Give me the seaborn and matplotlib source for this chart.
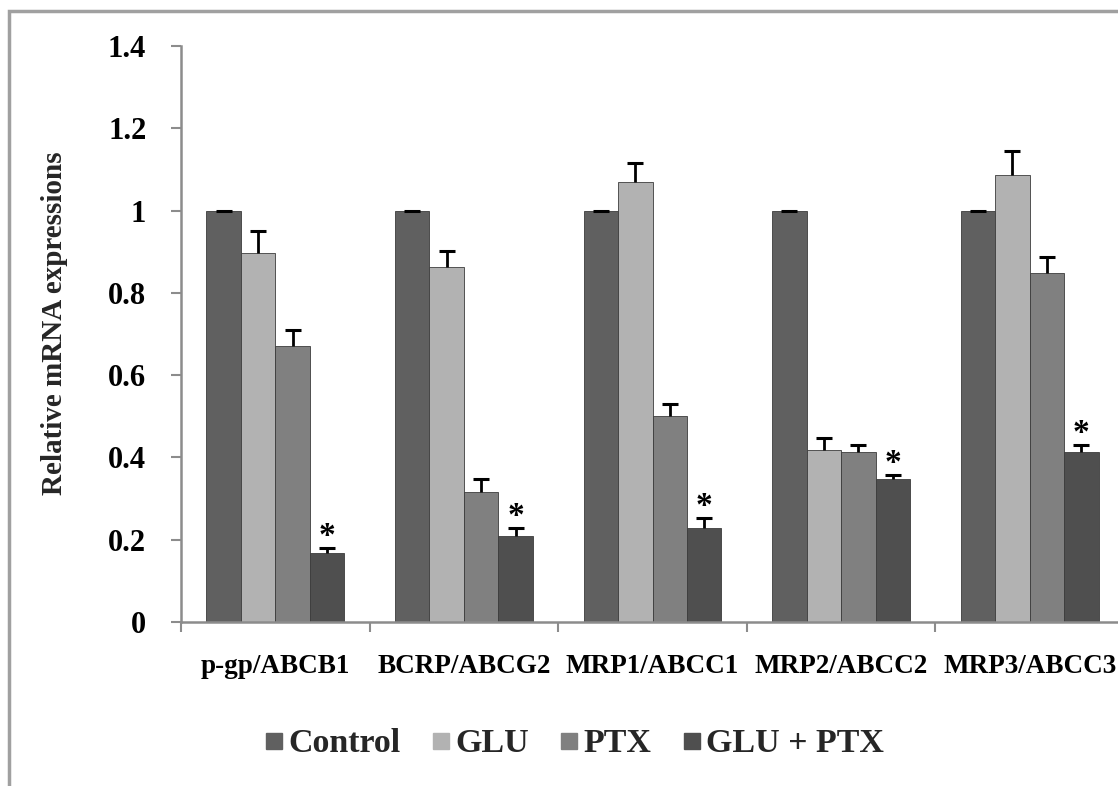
import matplotlib
matplotlib.use("Agg")
import matplotlib.pyplot as plt
from matplotlib.patches import Rectangle
from matplotlib.lines import Line2D
import numpy as np
import pandas as pd
import seaborn as sns

# ---------------- data ----------------
genes = ["p-gp/ABCB1", "BCRP/ABCG2", "MRP1/ABCC1", "MRP2/ABCC2", "MRP3/ABCC3"]
groups = ["Control", "GLU", "PTX", "GLU + PTX"]

control = [1.0, 1.0, 1.0, 1.0, 1.0]
glu = [0.897, 0.862, 1.07, 0.418, 1.087]
ptx = [0.67, 0.316, 0.50, 0.413, 0.848]
glu_ptx = [0.168, 0.209, 0.228, 0.348, 0.413]

control_err = [0.0, 0.0, 0.0, 0.0, 0.0]
glu_err = [0.053, 0.040, 0.046, 0.029, 0.058]
ptx_err = [0.040, 0.032, 0.030, 0.017, 0.040]
glu_ptx_err = [0.012, 0.019, 0.025, 0.009, 0.017]

star_group = "GLU + PTX"
y_ticks = [0, 0.2, 0.4, 0.6, 0.8, 1.0, 1.2, 1.4]
y_tick_labels = ["0", "0.2", "0.4", "0.6", "0.8", "1", "1.2", "1.4"]
y_label = "Relative mRNA expressions"

colors = ["#606060", "#b2b2b2", "#808080", "#4f4f4f"]

values = [control, glu, ptx, glu_ptx]
errors = [control_err, glu_err, ptx_err, glu_ptx_err]

rows = []
for g, vals in zip(groups, values):
    for gene, v in zip(genes, vals):
        rows.append({"gene": gene, "group": g, "value": v})
df = pd.DataFrame(rows)

# ---------------- style ----------------
sns.set_theme(style="white")
plt.rcParams["font.family"] = ["Liberation Serif", "DejaVu Serif"]
plt.rcParams["font.weight"] = "bold"

W, H = 1118, 786
fig = plt.figure(figsize=(W / 100, H / 100), dpi=100)
ax = fig.add_axes([181 / W, 1 - 622 / H, (1124 - 181) / W, (622 - 46) / H])

sns.barplot(data=df, x="gene", y="value", hue="group", order=genes,
            hue_order=groups, palette=colors, saturation=1, width=0.73,
            gap=0, edgecolor="#3c3c3c", linewidth=0.6, errorbar=None,
            legend=False, ax=ax)

# error bars (upper only) and significance stars
for cont, grp, errs in zip(ax.containers, groups, errors):
    xs = np.array([b.get_x() + b.get_width() / 2 for b in cont])
    hs = np.array([b.get_height() for b in cont])
    errs = np.array(errs)
    ax.errorbar(xs, hs, yerr=[np.zeros_like(errs), errs], fmt="none",
                ecolor="black", elinewidth=2, capsize=0, zorder=3)
    ax.plot(xs, hs + errs, ls="none", marker="_", markersize=12,
            mew=2.2, color="black", zorder=3)
    if grp == star_group:
        for x, top in zip(xs, hs + errs):
            ax.annotate("*", (x, top), xytext=(0, 2), textcoords="offset points",
                        ha="center", va="baseline", fontsize=24,
                        fontweight="bold", color="black")

ax.set_xlim(-0.5, len(genes) - 0.5)
ax.set_ylim(0, 1.4)
ax.set_yticks(y_ticks)
ax.set_yticklabels(y_tick_labels, fontsize=22, fontweight="bold")
ax.set_xticks(range(len(genes)))
ax.set_xticklabels(genes, fontsize=19.5, fontweight="bold")
ax.set_xticks(np.arange(-0.5, len(genes), 1.0), minor=True)
ax.set_xlabel("")
ax.set_ylabel("")

for s in ["top", "right"]:
    ax.spines[s].set_visible(False)
for s in ["left", "bottom"]:
    ax.spines[s].set_color("#8c8c8c")
    ax.spines[s].set_linewidth(1.8)

ax.tick_params(axis="y", which="major", left=True, length=7, width=1.5,
               color="#8c8c8c", direction="out", pad=18, labelcolor="black")
ax.tick_params(axis="x", which="major", bottom=True, length=0, pad=23,
               labelcolor="black")
ax.tick_params(axis="x", which="minor", bottom=True, length=7, width=1.5,
               color="#8c8c8c", direction="out")

fig.text(55 / W, 1 - 323 / H, y_label, rotation=90, ha="center", va="center",
         fontsize=21, fontweight="bold")

handles = [Line2D([0], [0], ls="none", marker="s", markersize=11.5,
                  markerfacecolor=c, markeredgecolor=c) for c in colors]
fig.legend(handles, groups, loc="center", bbox_to_anchor=(575 / W, 1 - 744 / H),
           ncol=4, frameon=False, handlelength=0.47, handletextpad=0.18,
           columnspacing=0.95, prop={"size": 24.5, "weight": "bold"})

fig.patches.append(Rectangle((9 / W, -0.1), 2.0, (1 - 11 / H) + 0.1,
                             transform=fig.transFigure, fill=False,
                             edgecolor="#a0a0a0", linewidth=2.5, zorder=0))

fig.savefig("out.png", dpi=100)
